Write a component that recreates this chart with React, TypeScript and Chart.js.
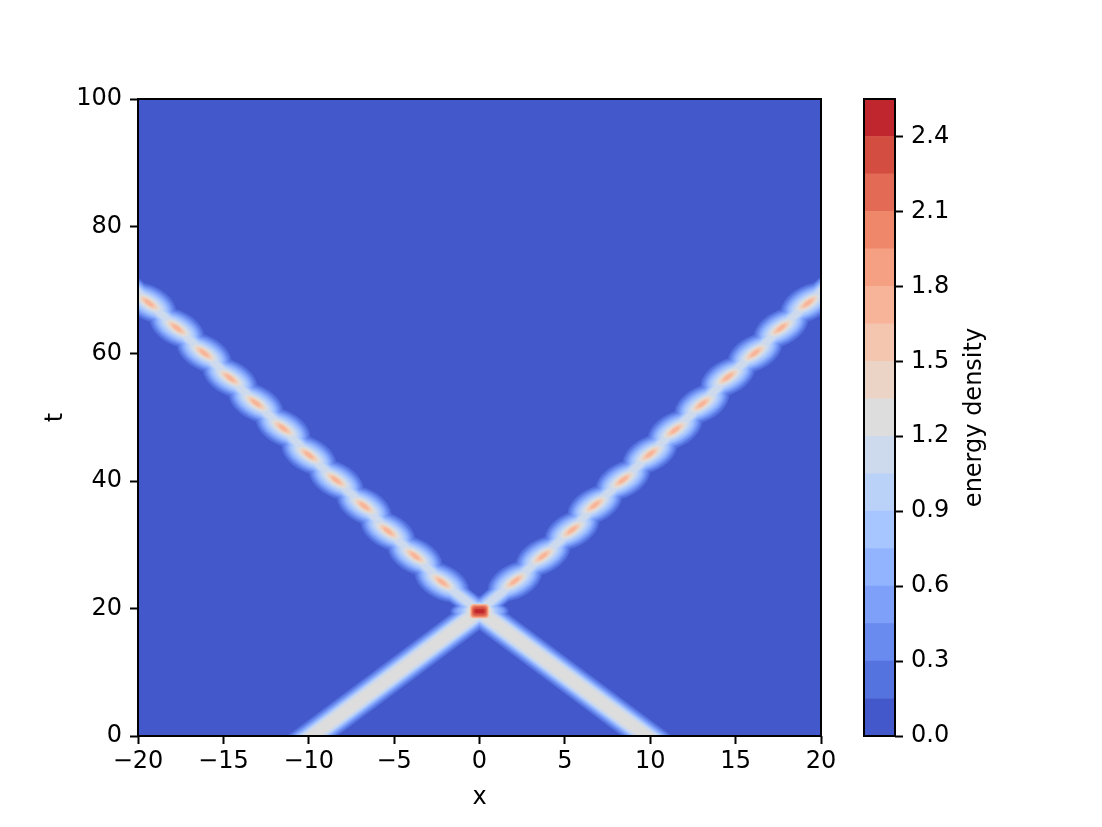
import React, { useEffect, useRef } from 'react';
import { Chart, registerables } from 'chart.js';

Chart.register(...registerables);

// ---------------- data ----------------
const xTicks = [-20, -15, -10, -5, 0, 5, 10, 15, 20];
const tTicks = [0, 20, 40, 60, 80, 100];
const cbTicks = [0, 0.3, 0.6, 0.9, 1.2, 1.5, 1.8, 2.1, 2.4];
const levelBounds = [0, 0.15, 0.3, 0.45, 0.6, 0.75, 0.9, 1.05, 1.2, 1.35, 1.5, 1.65, 1.8, 1.95, 2.1, 2.25, 2.4, 2.55];
const levelColors = [
  '#4359cb', '#5573df', '#698aef', '#7ea0f9', '#92b4fe', '#a7c5fe', '#bad1f8', '#cdd9ed', '#dddddd',
  '#ebd4c6', '#f4c6af', '#f7b498', '#f5a082', '#ef876a', '#e36b55', '#d34d40', '#bf262e',
];

// collision point of the two incoming kinks
const collisionX = 0;
const collisionT = 19.6;

// incoming kink trajectories (V shape through the collision)
const incomingX = [-10.8, 0, 10.8];
const incomingT = [-2, 19.6, -2];

// outgoing oscillating kinks: energy maxima
const leftPeakX = [-2.2, -3.78, -5.36, -6.76, -8.4, -9.99, -11.51, -13.09, -14.61, -16.13, -17.72, -19.36];
const leftPeakT = [24.18, 28.26, 32.18, 36.11, 40.19, 44.11, 48.35, 52.28, 56.2, 60.13, 64.05, 67.98];
const rightPeakX = [2.08, 3.72, 5.42, 6.76, 8.4, 9.99, 11.45, 13.03, 14.55, 16.13, 17.66, 19.24];
const rightPeakT = [24.33, 28.26, 32.34, 36.26, 40.19, 44.27, 48.04, 52.12, 56.36, 60.13, 64.05, 67.98];
const outgoingEndX = [-21.5, 21.5];
const outgoingEndT = [73.4, 73.4];

// ---------------- styles ----------------
const W = 1102;
const H = 827;
const FONT = { family: 'DejaVu Sans', size: 24 };
const IN_WIDTHS = [30, 26.5, 23.5, 21, 18.5, 16.5, 14.5, 10.5]; // contour levels 1..8
const OUT_WIDTHS = [22, 19.5, 17, 14.5, 12, 9.5, 7]; // levels 1..7
const BLOB_SIZES: number[][] = [
  [58, 34], [54, 30], [50, 26.5], [46, 23], [42, 19.5], [37, 16], [32, 13], [26, 10], [21, 7.5], [16, 5.5], [10, 3.5],
]; // levels 1..11
// [level, width, height] of the collision hot spot
const COLLISION_SHAPES: number[][] = [
  [1, 58, 20], [2, 54, 18], [3, 50, 17], [4, 45, 16], [5, 38, 15], [6, 32, 15], [7, 28, 15], [8, 24, 14],
  [9, 20, 14], [10, 19, 13.5], [11, 18, 13], [12, 17, 12.5], [13, 16, 11.5], [14, 15, 10], [15, 13, 7.5], [16, 10, 4],
];

const fmt = (v: number) => (v < 0 ? '\u2212' + Math.abs(v) : String(v));
const toPts = (xs: number[], ts: number[]) => xs.map((x, i) => ({ x, y: ts[i] }));

function ellipseImage(color: string, len: number, thick: number): HTMLCanvasElement {
  const c = document.createElement('canvas');
  const w = Math.ceil(len) + 2;
  const h = Math.ceil(thick) + 2;
  c.width = w;
  c.height = h;
  const g = c.getContext('2d')!;
  g.fillStyle = color;
  g.beginPath();
  g.ellipse(w / 2, h / 2, len / 2, thick / 2, 0, 0, Math.PI * 2);
  g.fill();
  return c;
}

function spotImage(color: string, lvl: number, w: number, h: number): HTMLCanvasElement {
  const c = document.createElement('canvas');
  c.width = Math.ceil(w) + 2;
  c.height = Math.ceil(h) + 2;
  const g = c.getContext('2d')!;
  g.fillStyle = color;
  g.beginPath();
  if (lvl <= 8) {
    g.ellipse(c.width / 2, c.height / 2, w / 2, h / 2, 0, 0, Math.PI * 2);
  } else {
    (g as any).roundRect(c.width / 2 - w / 2, c.height / 2 - h / 2, w, h, Math.min(h / 2, 3.5));
  }
  g.fill();
  return c;
}

const framePlugin = {
  id: 'frame',
  afterDraw(chart: any) {
    const { ctx, chartArea: a } = chart;
    ctx.save();
    ctx.strokeStyle = '#000';
    ctx.lineWidth = 2;
    ctx.strokeRect(a.left, a.top, a.right - a.left, a.bottom - a.top);
    ctx.restore();
  },
};

const bgPlugin = {
  id: 'plotbg',
  beforeDatasetsDraw(chart: any) {
    const { ctx, chartArea: a } = chart;
    ctx.save();
    ctx.fillStyle = levelColors[0];
    ctx.fillRect(a.left, a.top, a.right - a.left, a.bottom - a.top);
    ctx.restore();
  },
};

const cbLabelPlugin = {
  id: 'cblabel',
  afterDraw(chart: any) {
    const { ctx, chartArea: a } = chart;
    ctx.save();
    ctx.translate(975, (a.top + a.bottom) / 2);
    ctx.rotate(-Math.PI / 2);
    ctx.font = `${FONT.size}px ${FONT.family}`;
    ctx.fillStyle = '#000';
    ctx.textAlign = 'center';
    ctx.textBaseline = 'middle';
    ctx.fillText('energy density', 0, 0);
    ctx.restore();
  },
};

export default function App() {
  const mainRef = useRef<HTMLCanvasElement>(null);
  const cbRef = useRef<HTMLCanvasElement>(null);

  useEffect(() => {
    const incomingPts = toPts(incomingX, incomingT);
    const leftPts = toPts(leftPeakX, leftPeakT);
    const rightPts = toPts(rightPeakX, rightPeakT);
    const outgoingPts = [
      { x: outgoingEndX[0], y: outgoingEndT[0] },
      ...leftPts.slice().reverse(),
      { x: collisionX, y: collisionT },
      ...rightPts,
      { x: outgoingEndX[1], y: outgoingEndT[1] },
    ];
    const spotPt = [{ x: collisionX, y: collisionT }];

    const datasets: any[] = [];
    for (let k = 1; k <= 16; k++) {
      const color = levelColors[k];
      const base = 1000 - k * 10;
      if (k <= IN_WIDTHS.length) {
        datasets.push({
          data: incomingPts, borderColor: color, borderWidth: IN_WIDTHS[k - 1], pointRadius: 0,
          fill: false, tension: 0, borderJoinStyle: 'round', clip: 0, order: base,
        });
      }
      if (k <= OUT_WIDTHS.length) {
        datasets.push({
          data: outgoingPts, borderColor: color, borderWidth: OUT_WIDTHS[k - 1], pointRadius: 0,
          fill: false, tension: 0, borderJoinStyle: 'round', clip: 0, order: base - 1,
        });
      }
      if (k <= BLOB_SIZES.length) {
        const [len, thick] = BLOB_SIZES[k - 1];
        const img = ellipseImage(color, len, thick);
        const tilt = 27 + (k - 1) * 1.0;
        datasets.push({
          data: leftPts, showLine: false, pointStyle: img, pointRotation: tilt, rotation: tilt,
          pointRadius: 1, pointHoverRadius: 1, clip: 0, order: base - 2,
        });
        datasets.push({
          data: rightPts, showLine: false, pointStyle: img, pointRotation: -tilt, rotation: -tilt,
          pointRadius: 1, pointHoverRadius: 1, clip: 0, order: base - 3,
        });
      }
      const shape = COLLISION_SHAPES.find((s) => s[0] === k);
      if (shape) {
        datasets.push({
          data: spotPt, showLine: false, pointStyle: spotImage(color, k, shape[1], shape[2]),
          pointRadius: 1, pointHoverRadius: 1, clip: 0, order: base - 4,
        });
      }
    }

    const tickGrid = {
      drawOnChartArea: false, drawTicks: true, tickLength: 8, tickWidth: 2, tickColor: '#000',
    };

    const main = new Chart(mainRef.current!, {
      type: 'line',
      data: { datasets },
      options: {
        animation: false,
        responsive: false,
        devicePixelRatio: 1,
        events: [],
        layout: { padding: { left: 38, right: 281, top: 99, bottom: 11 } },
        plugins: { legend: { display: false }, tooltip: { enabled: false } },
        scales: {
          x: {
            type: 'linear', min: -20, max: 20,
            afterBuildTicks: (s: any) => { s.ticks = xTicks.map((v) => ({ value: v })); },
            afterFit: (s: any) => { s.height = 80; },
            ticks: { callback: (v: any) => fmt(Number(v)), font: FONT, color: '#000', padding: 3, maxRotation: 0, autoSkip: false },
            grid: tickGrid,
            border: { display: false },
            title: { display: true, text: 'x', font: FONT, color: '#000', padding: { top: 0, bottom: 4 } },
          },
          y: {
            type: 'linear', min: 0, max: 100,
            afterBuildTicks: (s: any) => { s.ticks = tTicks.map((v) => ({ value: v })); },
            afterFit: (s: any) => { s.width = 100; },
            ticks: { callback: (v: any) => fmt(Number(v)), font: FONT, color: '#000', padding: 8, autoSkip: false },
            grid: tickGrid,
            border: { display: false },
            title: { display: true, text: 't', font: FONT, color: '#000', padding: { top: 3, bottom: 0 } },
          },
        },
      } as any,
      plugins: [bgPlugin, framePlugin],
    });

    const cb = new Chart(cbRef.current!, {
      type: 'bar',
      data: {
        labels: [''],
        datasets: levelColors.map((c, i) => ({
          data: [levelBounds[i + 1] - levelBounds[i]],
          backgroundColor: c,
          borderWidth: 0,
          barPercentage: 1,
          categoryPercentage: 1,
        })),
      },
      options: {
        animation: false,
        responsive: false,
        devicePixelRatio: 1,
        events: [],
        layout: { padding: { left: 864, right: 87, top: 99, bottom: 91 } },
        plugins: { legend: { display: false }, tooltip: { enabled: false } },
        scales: {
          x: { display: false, stacked: true },
          y: {
            position: 'right', stacked: true, min: 0, max: 2.55,
            afterBuildTicks: (s: any) => { s.ticks = cbTicks.map((v) => ({ value: v })); },
            afterFit: (s: any) => { s.width = 120; },
            ticks: { callback: (v: any) => Number(v).toFixed(1), font: FONT, color: '#000', padding: 8, autoSkip: false },
            grid: tickGrid,
            border: { display: false },
          },
        },
      } as any,
      plugins: [framePlugin, cbLabelPlugin],
    });

    return () => {
      main.destroy();
      cb.destroy();
    };
  }, []);

  const canvasStyle: React.CSSProperties = {
    position: 'absolute', left: 0, top: 0, width: W, height: H, display: 'block',
  };
  return (
    <div style={{ position: 'absolute', left: 0, top: 0, width: W, height: H, background: '#fff', overflow: 'hidden' }}>
      <canvas ref={mainRef} width={W} height={H} style={canvasStyle} />
      <canvas ref={cbRef} width={W} height={H} style={canvasStyle} />
    </div>
  );
}
